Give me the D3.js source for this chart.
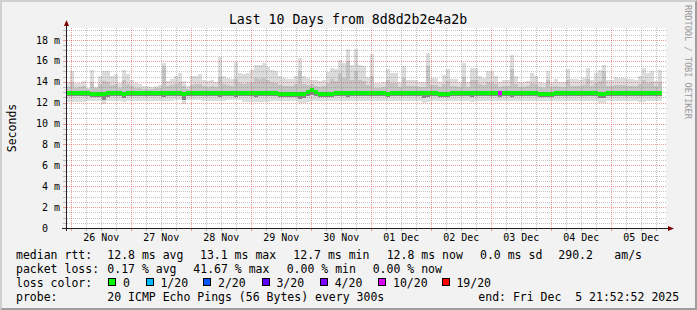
<!DOCTYPE html>
<html><head><meta charset="utf-8">
<script src="https://cdn.jsdelivr.net/npm/d3@7"></script>
<style>
html,body{margin:0;padding:0;background:#f2f2f2;overflow:hidden}
svg{display:block}
text{font-family:"DejaVu Sans Mono",monospace;white-space:pre}
</style>
</head><body><div id="chart"></div>
<script>
// ---------------- DATA ----------------
const title = "Last 10 Days from 8d8d2b2e4a2b";
const yLabel = "Seconds";
const credit = "RRDTOOL / TOBI OETIKER";
const endTime = "2025-12-05T21:52:52";
const spanDays = 10;
const columnMinutes = 96;           // one smoke column = 96 minutes
const yTickValues = [0, 2, 4, 6, 8, 10, 12, 14, 16, 18];   // ms
const yMinorStep = 0.5;
const yTop = 19.15;
const dayLabels = ["26 Nov", "27 Nov", "28 Nov", "29 Nov", "30 Nov", "01 Dec", "02 Dec", "03 Dec", "04 Dec", "05 Dec"];

// per-column smoke (ms): max ping, upper inner ping, median, lower inner ping, min ping
const smokeMax = [14.0,15.0,13.9,13.9,14.1,13.4,15.1,13.5,14.6,15.0,
 15.0,14.6,14.7,13.9,15.1,14.7,14.2,13.9,13.8,13.6,
 13.6,13.5,13.6,13.7,15.8,14.1,14.3,14.6,14.8,14.1,
 13.6,14.6,14.6,14.7,14.2,14.1,14.2,14.0,16.4,14.6,
 14.4,14.3,15.9,14.8,14.7,14.8,15.1,15.6,15.6,15.8,
 15.4,15.1,15.0,14.6,14.4,14.3,14.3,14.6,16.3,14.6,
 14.4,14.2,14.2,14.1,14.2,14.9,15.3,15.2,16.1,15.8,
 17.1,15.6,17.1,15.6,15.5,14.5,16.7,13.9,13.9,14.0,
 15.2,14.8,14.8,14.0,15.5,14.2,14.2,14.2,14.0,14.0,
 16.8,14.4,14.4,14.0,14.65,15.2,14.3,14.3,14.0,15.8,
 14.0,15.3,15.3,14.6,14.4,15.0,15.0,14.6,14.0,14.2,
 14.2,16.6,14.6,14.0,14.0,14.1,14.8,14.6,14.0,13.9,
 15.0,14.0,14.3,14.0,14.0,15.2,14.3,14.3,14.2,14.4,
 15.3,14.2,14.8,15.1,15.6,14.2,14.2,14.5,14.4,14.4,
 14.3,14.3,14.2,14.6,15.3,14.8,15.0,14.1,15.1,null];
const smokeHi = [13.5,14.0,13.4,13.5,13.6,13.3,14.0,13.4,13.8,14.1,
 14.0,13.7,13.8,13.4,14.2,13.8,13.6,13.4,13.4,13.3,
 13.3,13.3,13.4,13.4,15.5,13.6,13.7,13.8,14.0,13.6,
 13.3,13.7,13.8,13.8,13.6,13.5,13.6,13.5,14.5,13.8,
 13.7,13.6,14.3,13.9,13.8,13.9,14.0,14.4,14.3,14.4,
 14.2,14.0,13.9,13.7,13.6,13.6,13.6,13.8,15.0,13.8,
 13.7,13.8,13.6,13.5,13.6,13.9,14.3,14.1,14.8,14.4,
 16.0,14.2,15.0,14.2,14.1,13.7,14.6,13.4,13.4,13.5,
 14.2,13.9,13.9,13.5,14.4,13.6,13.6,13.6,13.5,13.5,
 15.5,13.7,13.7,13.5,13.8,14.1,13.6,13.6,13.5,14.5,
 13.5,14.2,14.2,13.8,13.7,14.0,14.0,13.8,13.5,13.6,
 13.6,15.2,13.8,13.5,13.5,13.6,13.9,13.8,13.5,13.4,
 14.2,13.5,13.6,13.5,13.5,14.2,13.6,13.6,13.6,13.7,
 14.3,13.6,13.9,14.1,15.0,13.6,13.6,13.7,13.7,13.7,
 13.6,13.6,13.6,13.8,14.2,13.9,14.0,13.6,14.0,null];
const medianRtt = [12.9,12.9,12.9,12.9,12.9,12.9,12.8,12.8,12.8,12.8,
 12.9,12.9,12.9,12.9,12.85,12.9,12.9,12.9,12.9,12.9,
 12.9,12.9,12.9,12.9,12.95,12.9,12.9,12.9,12.9,12.85,
 12.9,12.9,12.9,12.9,12.9,12.9,12.9,12.9,12.9,12.9,
 12.9,12.9,12.9,12.9,12.9,12.95,12.95,12.95,12.9,12.9,
 12.9,12.9,12.9,12.85,12.85,12.85,12.85,12.85,12.8,12.8,
 13.05,13.2,13.0,12.85,12.85,12.85,12.85,12.9,12.9,12.9,
 12.9,12.9,12.9,12.9,12.9,12.9,12.9,12.9,12.9,12.9,
 12.85,12.9,12.9,12.9,12.95,12.9,12.9,12.9,12.9,12.9,
 12.9,12.9,12.9,12.85,12.85,12.85,12.9,12.9,12.9,12.9,
 12.9,12.9,12.9,12.9,12.9,12.9,12.9,12.9,12.9,12.9,
 12.9,12.9,12.9,12.9,12.9,12.9,12.9,12.9,12.8,12.8,
 12.8,12.8,12.9,12.9,12.9,12.9,12.9,12.9,12.9,12.9,
 12.9,12.9,12.9,12.85,12.85,12.9,12.9,12.9,12.9,12.9,
 12.9,12.9,12.9,12.9,12.9,12.9,12.9,12.9,12.9,null];
const smokeLo = [12.6,12.6,12.6,12.6,12.6,12.6,12.5,12.5,12.5,12.3,
 12.5,12.6,12.6,12.6,12.45,12.6,12.6,12.6,12.6,12.6,
 12.6,12.6,12.6,12.6,12.5,12.6,12.6,12.6,12.6,12.3,
 12.6,12.6,12.6,12.6,12.6,12.6,12.6,12.6,12.5,12.6,
 12.6,12.6,12.5,12.6,12.6,12.6,12.6,12.5,12.6,12.6,
 12.6,12.6,12.6,12.55,12.55,12.55,12.55,12.55,12.35,12.45,
 12.6,12.7,12.6,12.55,12.55,12.55,12.55,12.6,12.6,12.6,
 12.5,12.6,12.6,12.6,12.6,12.6,12.6,12.6,12.6,12.6,
 12.55,12.6,12.6,12.6,12.6,12.6,12.6,12.6,12.6,12.4,
 12.5,12.6,12.6,12.55,12.55,12.55,12.6,12.6,12.6,12.6,
 12.6,12.5,12.6,12.6,12.6,12.6,12.6,12.6,12.5,12.6,
 12.6,12.5,12.6,12.6,12.6,12.6,12.6,12.6,12.5,12.5,
 12.5,12.5,12.6,12.6,12.6,12.6,12.6,12.6,12.6,12.6,
 12.6,12.6,12.6,12.45,12.4,12.6,12.6,12.6,12.6,12.6,
 12.6,12.6,12.6,12.6,12.6,12.6,12.6,12.6,12.6,null];
const smokeMin = [12.1,12.1,12.1,12.1,12.1,12.2,12.2,12.2,12.2,11.85,
 12.2,12.2,12.2,12.2,12.1,12.2,12.2,12.2,12.15,12.15,
 12.2,12.2,12.2,12.2,12.15,12.2,12.2,12.25,12.25,11.85,
 12.25,12.25,12.25,12.25,12.2,12.2,12.2,12.2,12.2,12.2,
 12.25,12.25,12.25,12.25,12.1,12.1,12.1,12.1,12.1,12.1,
 12.1,12.2,12.2,12.2,12.2,12.2,12.2,12.2,11.95,12.0,
 12.1,12.15,12.2,12.2,12.2,12.2,12.2,12.2,12.2,12.2,
 12.2,12.2,12.2,12.2,12.2,12.2,12.2,12.2,12.2,12.2,
 12.2,12.2,12.2,12.2,12.2,12.2,12.2,12.2,12.2,12.0,
 12.1,12.2,12.2,12.2,12.2,12.2,12.2,12.2,12.2,12.2,
 12.2,12.1,12.15,12.2,12.2,12.2,12.2,12.2,12.2,12.2,
 12.2,12.2,12.2,12.2,12.2,12.2,12.2,12.2,12.2,12.2,
 12.2,12.2,12.2,12.2,12.2,12.2,12.2,12.2,12.2,12.2,
 12.2,12.2,12.2,12.0,12.0,12.2,12.2,12.2,12.2,12.2,
 12.2,12.2,12.2,12.1,12.1,12.2,12.2,12.2,12.2,null];
// lost pings out of 20 per column
const lossCount = [0,0,0,0,0,0,0,0,0,0, 0,0,0,0,0,0,0,0,0,0,
 0,0,0,0,0,0,0,0,0,0, 0,0,0,0,0,0,0,0,0,0,
 0,0,0,0,0,0,0,0,0,0, 0,0,0,0,0,0,0,0,0,0,
 0,0,0,0,0,0,0,0,0,0, 0,0,0,0,0,0,0,0,0,0,
 0,0,0,0,0,0,0,0,0,0, 0,0,0,0,0,0,0,0,0,0,
 0,0,0,0,0,0,0,0,8,0, 0,0,0,0,0,0,0,0,0,0,
 0,0,0,0,0,0,0,0,0,0, 0,0,0,0,0,0,0,0,0,0,
 0,0,0,0,0,0,0,0,0,0, 0,0,0,0,0,0,0,0,0,null];

const lossLevels = [0, 1, 2, 3, 4, 10, 19];
const lossLabels = ["0", "1/20", "2/20", "3/20", "4/20", "10/20", "19/20"];
const lossColors = ["#00ff00", "#00b8ff", "#0059ff", "#5e00ff", "#7e00ff", "#dd00ff", "#ff0000"];

const rttStats = ["median rtt:", "12.8 ms avg", "13.1 ms max", "12.7 ms min", "12.8 ms now", "0.0 ms sd", "290.2", "am/s"];
const lossStats = ["packet loss:", "0.17 % avg", "41.67 % max", "0.00 % min", "0.00 % now"];
const probeInfo = ["probe:", "20 ICMP Echo Pings (56 Bytes) every 300s", "end: Fri Dec  5 21:52:52 2025"];

// ---------------- LAYOUT ----------------
const W = 697, H = 310;
const plot = {left: 66, right: 666, top: 28, bottom: 228};
const rttX = [16, 107.3, 200, 293.3, 386.7, 480, 558.3, 614.3];
const lossX = [16, 107.3, 193.3, 286.7, 372.7];
const boxX = [108.3, 145.7, 203.3, 261.7, 320, 378.3, 441.7];
const probeX = [16, 107.3, 478.3];
const rowY = [259.3, 273.2, 287.0, 300.9];
const minorCol = "rgba(120,120,120,0.45)", majorCol = "rgba(222,60,60,0.5)";

const svg = d3.select("#chart").append("svg").attr("width", W).attr("height", H);

// background and 3D frame
svg.append("rect").attr("width", W).attr("height", H).attr("fill", "#f2f2f2");
svg.append("path").attr("d", `M0,0H${W}L${W-2},2H2V${H-2}L0,${H}Z`).attr("fill", "#cfcfcf");
svg.append("path").attr("d", `M${W},0V${H}H0L2,${H-2}H${W-2}V2Z`).attr("fill", "#9e9e9e");

// canvas
svg.append("rect").attr("x", plot.left).attr("y", plot.top)
  .attr("width", plot.right - plot.left).attr("height", plot.bottom - plot.top).attr("fill", "#ffffff");

// x scale in hours since the start of the 10-day window
const endHourOfDay = 21 + 52 / 60 + 52 / 3600;           // 21:52:52
const spanHours = spanDays * 24;
const x = d3.scaleLinear().domain([0, spanHours]).range([plot.left, plot.right]);
const y = d3.scaleLinear().domain([0, yTop]).range([plot.bottom, plot.top]);
const firstMidnight = 24 - endHourOfDay;
const dayHours = dayLabels.map((_, i) => firstMidnight + 24 * i);
const sixHours = d3.range(firstMidnight - 18, spanHours, 6)
  .filter(h => h > 0 && !dayHours.some(d => Math.abs(d - h) < 1e-6));

const colH = columnMinutes / 60;
const cols = smokeMax.map((m, i) => ({
  h0: i * colH, h1: (i + 1) * colH,
  max: m, hi: smokeHi[i], med: medianRtt[i], lo: smokeLo[i], min: smokeMin[i], loss: lossCount[i]
})).filter(d => d.max != null);

const cx = d => Math.round(x(d.h0));
const cw = d => Math.round(x(d.h1)) - Math.round(x(d.h0));
const gSmoke = svg.append("g");
function layer(top, bot, color) {
  gSmoke.append("g").selectAll("rect").data(cols).join("rect")
    .attr("x", cx).attr("width", cw)
    .attr("y", d => y(top(d))).attr("height", d => Math.max(0, y(bot(d)) - y(top(d))))
    .attr("fill", color).attr("shape-rendering", "crispEdges");
}
layer(d => d.max, d => d.min, "#dcdcdc");
layer(d => d.hi, d => d.med, "#c4c4c4");
layer(d => d.med, d => d.lo, "#858585");

const lossColor = l => {
  for (let k = 0; k < lossLevels.length; k++) if (l <= lossLevels[k]) return lossColors[k];
  return lossColors[lossColors.length - 1];
};
gSmoke.append("g").selectAll("rect").data(cols).join("rect")
  .attr("x", cx).attr("width", cw)
  .attr("y", d => y(d.med) - 2).attr("height", 4)
  .attr("fill", d => lossColor(d.loss)).attr("shape-rendering", "crispEdges");

// dotted grid (1 px on / 1 px off), built as tiny squares
const minorY = d3.range(yMinorStep, yTop, yMinorStep).filter(v => !yTickValues.includes(v));
const majorY = yTickValues.filter(v => v > 0);
function dotsV(xs) {
  let d = "";
  xs.forEach(xx => {
    for (let yy = plot.top; yy < plot.bottom; yy += 2) d += `M${xx},${yy}h1v1h-1z`;
    d += `M${xx},${plot.bottom + 1}h1v2h-1z`;
  });
  return d;
}
function dotsH(ys) {
  let d = "";
  ys.forEach(yy => {
    for (let xx = plot.left + 1; xx < plot.right; xx += 2) d += `M${xx},${yy}h1v1h-1z`;
    d += `M${plot.left - 3},${yy}h3v1h-3z`;
  });
  return d;
}
const gGrid = svg.append("g").attr("shape-rendering", "crispEdges");
gGrid.append("path").attr("d", dotsV(sixHours.map(h => Math.round(x(h))))).attr("fill", minorCol);
gGrid.append("path").attr("d", dotsH(minorY.map(v => Math.round(y(v))))).attr("fill", minorCol);
gGrid.append("path").attr("d", dotsV(dayHours.map(h => Math.round(x(h))))).attr("fill", majorCol);
gGrid.append("path").attr("d", dotsH(majorY.map(v => Math.round(y(v))))).attr("fill", majorCol);

// axes
const axisCol = "#1f1f1f", arrowCol = "#800000";
svg.append("line").attr("x1", plot.left - 4).attr("x2", plot.right + 3).attr("y1", plot.bottom + 0.5).attr("y2", plot.bottom + 0.5).attr("stroke", axisCol);
svg.append("line").attr("x1", plot.left + 0.5).attr("x2", plot.left + 0.5).attr("y1", plot.bottom + 3).attr("y2", plot.top - 4).attr("stroke", axisCol);
svg.append("path").attr("d", `M${plot.right + 2},${plot.bottom - 2}L${plot.right + 8},${plot.bottom + 0.5}L${plot.right + 2},${plot.bottom + 3}Z`).attr("fill", arrowCol);
svg.append("path").attr("d", `M${plot.left - 2},${plot.top - 2}L${plot.left + 0.5},${plot.top - 8}L${plot.left + 3},${plot.top - 2}Z`).attr("fill", arrowCol);

// tick labels
svg.append("g").selectAll("text").data(dayLabels).join("text")
  .attr("x", (d, i) => x(dayHours[i] + 12)).attr("y", 241)
  .attr("text-anchor", "middle").attr("font-size", "10px").attr("fill", "#000")
  .text(d => d);
svg.append("g").selectAll("text").data(yTickValues).join("text")
  .attr("x", 60).attr("y", d => y(d) + 3.6)
  .attr("text-anchor", "end").attr("font-size", "10px").attr("fill", "#000")
  .attr("xml:space", "preserve")
  .text(d => d === 0 ? "0  " : d + " m");

// title and side labels
svg.append("text").attr("x", 348).attr("y", 23.5).attr("text-anchor", "middle")
  .attr("font-size", "13.2px").attr("fill", "#000").text(title);
svg.append("text").attr("transform", "translate(15.5,128) rotate(-90)").attr("text-anchor", "middle")
  .attr("font-size", "11.5px").attr("fill", "#000").text(yLabel);
svg.append("text").attr("transform", "translate(685,5) rotate(90)").attr("text-anchor", "start")
  .attr("font-size", "8.6px").attr("fill", "#9a9a9a").text(credit);

// legend
const lg = svg.append("g").attr("font-size", "11.5px").attr("fill", "#000");
rttStats.forEach((s, i) => lg.append("text").attr("x", rttX[i]).attr("y", rowY[0]).attr("xml:space", "preserve").text(s));
lossStats.forEach((s, i) => lg.append("text").attr("x", lossX[i]).attr("y", rowY[1]).attr("xml:space", "preserve").text(s));
lg.append("text").attr("x", 16).attr("y", rowY[2]).text("loss color:");
lossLabels.forEach((s, i) => {
  lg.append("rect").attr("x", boxX[i] + 0.5).attr("y", rowY[2] - 8.5).attr("width", 7).attr("height", 7)
    .attr("fill", lossColors[i]).attr("stroke", "#000").attr("stroke-width", 1).attr("shape-rendering", "crispEdges");
  lg.append("text").attr("x", boxX[i] + 14.7).attr("y", rowY[2]).text(s);
});
probeInfo.forEach((s, i) => lg.append("text").attr("x", probeX[i]).attr("y", rowY[3]).attr("xml:space", "preserve").text(s));
</script>
</body></html>
